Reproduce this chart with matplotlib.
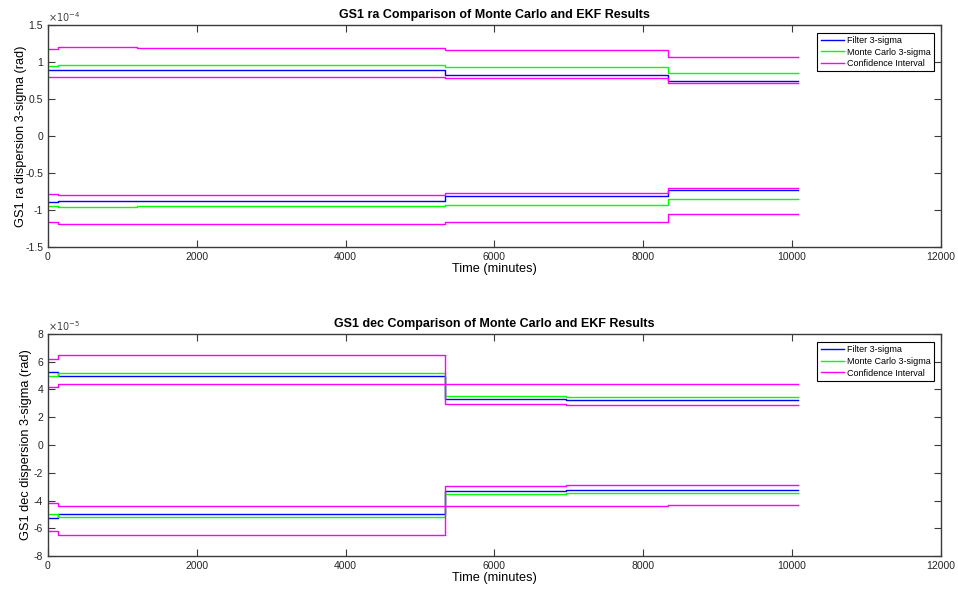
import matplotlib
matplotlib.use('Agg')
import matplotlib.pyplot as plt
from matplotlib.ticker import FuncFormatter, MultipleLocator

plt.rcParams['font.family'] = ['Liberation Sans', 'DejaVu Sans']

# step breakpoints (minutes), last entry is the end of the run
time_min = [0, 130, 1200, 5340, 6960, 8340, 10080]

# GS1 ra, units of 1e-4 rad (upper half, lower half is mirrored)
ra_filter = [0.89, 0.885, 0.885, 0.82, 0.82, 0.735, 0.735]
ra_mc = [0.945, 0.96, 0.955, 0.93, 0.93, 0.85, 0.85]
ra_ci_hi = [1.17, 1.195, 1.19, 1.16, 1.16, 1.06, 1.06]
ra_ci_lo = [0.79, 0.80, 0.80, 0.775, 0.775, 0.71, 0.71]

# GS1 dec, units of 1e-5 rad
dec_filter = [5.28, 5.0, 5.0, 3.3, 3.27, 3.27, 3.27]
dec_mc = [5.0, 5.2, 5.2, 3.5, 3.48, 3.46, 3.46]
dec_ci_hi = [6.22, 6.5, 6.5, 4.4, 4.38, 4.36, 4.36]
dec_ci_lo = [4.15, 4.38, 4.38, 2.95, 2.9, 2.9, 2.9]

legend_labels = ['Filter 3-sigma', 'Monte Carlo 3-sigma', 'Confidence Interval']

axcol = '#3a3a3a'


def draw(ax, filt, mc, hi, lo, scale, exp, ylim, ystep, name, ylab_x):
    f = lambda v: [x * scale for x in v]
    neg = lambda v: [-x * scale for x in v]
    h1, = ax.step(time_min, f(filt), where='post', color='b', lw=1)
    h2, = ax.step(time_min, f(mc), where='post', color='#00ff00', lw=1)
    h3, = ax.step(time_min, f(hi), where='post', color='#ff00ff', lw=1)
    ax.step(time_min, f(lo), where='post', color='#ff00ff', lw=1)
    ax.step(time_min, neg(filt), where='post', color='b', lw=1)
    ax.step(time_min, neg(mc), where='post', color='#00ff00', lw=1)
    ax.step(time_min, neg(hi), where='post', color='#ff00ff', lw=1)
    ax.step(time_min, neg(lo), where='post', color='#ff00ff', lw=1)

    ax.set_xlim(0, 12000)
    ax.set_ylim(ylim[0] * scale, ylim[1] * scale)
    ax.xaxis.set_major_locator(MultipleLocator(2000))
    ax.yaxis.set_major_locator(MultipleLocator(ystep * scale))
    ax.yaxis.set_major_formatter(FuncFormatter(lambda v, p: '%g' % round(v / scale, 6)))
    ax.tick_params(direction='in', top=True, right=True, labelsize=7.5,
                   length=5, width=0.8, color=axcol, labelcolor='#262626')
    for s in ax.spines.values():
        s.set_color(axcol)
        s.set_linewidth(1.0)
    ax.text(0.0, 1.004, r'$\times10^{%d}$' % exp, transform=ax.transAxes,
            fontsize=7, color='#404040', ha='left', va='bottom')
    ax.set_title('GS1 %s Comparison of Monte Carlo and EKF Results' % name,
                 fontsize=9, fontweight='bold', pad=5)
    ax.set_xlabel('Time (minutes)', fontsize=9.2, labelpad=1)
    ax.set_ylabel('GS1 %s dispersion 3-sigma (rad)' % name, fontsize=9.2)
    ax.yaxis.set_label_coords(ylab_x, 0.5)
    leg = ax.legend([h1, h2, h3], legend_labels, loc='upper right', fontsize=6.5,
                    fancybox=False, framealpha=1, edgecolor='black',
                    borderpad=0.35, handlelength=2.6, handletextpad=0.3,
                    labelspacing=0.3, borderaxespad=0, bbox_to_anchor=(0.992, 0.964))
    leg.get_frame().set_linewidth(0.8)


fig = plt.figure(figsize=(9.58, 5.89), dpi=100)
ax1 = fig.add_axes([0.050, 0.581, 0.932, 0.377])
ax2 = fig.add_axes([0.050, 0.056, 0.932, 0.377])

draw(ax1, ra_filter, ra_mc, ra_ci_hi, ra_ci_lo, 1e-4, -4, (-1.5, 1.5), 0.5, 'ra', -0.0235)
draw(ax2, dec_filter, dec_mc, dec_ci_hi, dec_ci_lo, 1e-5, -5, (-8, 8), 2, 'dec', -0.018)

fig.savefig('out.png', dpi=100)
